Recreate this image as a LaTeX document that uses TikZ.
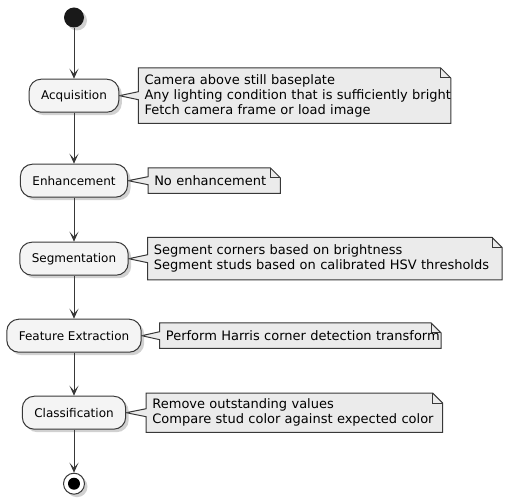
\documentclass[tikz,border=0pt]{standalone}
\usepackage{fontspec}
\setmainfont{DejaVu Sans}
\usetikzlibrary{positioning, arrows.meta, calc, backgrounds, shadows}
\definecolor{actfill}{HTML}{F4F4F4}
\definecolor{notefill}{HTML}{EBEBEB}
\definecolor{umlline}{HTML}{383838}
\definecolor{umlshadow}{HTML}{7A7A7A}

\tikzset{
  umlshade/.style={drop shadow={shadow xshift=3pt, shadow yshift=-3pt, opacity=0.35, fill=umlshadow}},
  act/.style={draw=umlline, fill=actfill, line width=1pt, rounded corners=12pt,
    minimum height=33pt, inner xsep=12pt, font=\fontsize{12}{14}\selectfont, umlshade},
  notebox/.style 2 args={inner xsep=6pt, inner ysep=0pt, text width=#1-12pt,
    minimum height=#2, align=left, font=\fontsize{13}{15.2}\selectfont},
  flow/.style={draw=umlline, line width=1pt, -{Stealth[length=10pt, width=9pt, inset=5pt]}},
  startdot/.style={circle, fill=black!90, inner sep=0pt, minimum size=20pt, umlshade},
  stopring/.style={circle, draw=umlline, fill=white, line width=1pt, inner sep=0pt, minimum size=21pt, umlshade},
}

% note outline with the wedge pointing at its activity
\newcommand{\notewedge}[2]{%
  \fill[umlshadow, opacity=0.35, xshift=3pt, yshift=-3pt]
    (#2.north west) -- (#2.south west) -- (#2.south east)
    -- ([yshift=-10pt]#2.north east) -- ([xshift=-10pt]#2.north east) -- cycle;
  \filldraw[draw=umlline, fill=notefill, line width=1pt]
    (#2.north west) -- ([yshift=4pt]#2.west) -- (#1.east) -- ([yshift=-4pt]#2.west)
    -- (#2.south west) -- (#2.south east) -- ([yshift=-10pt]#2.north east)
    -- ([xshift=-10pt]#2.north east) -- cycle;
  \draw[umlline, line width=1pt] ([xshift=-10pt]#2.north east)
    |- ([yshift=-10pt]#2.north east);
}

\begin{document}
\begin{tikzpicture}
  \useasboundingbox (0,0) rectangle (511pt,-502pt);

  \node[startdot] (start) at (74pt,-17.5pt) {};
  \node[act, below=51pt of start] (acq) {Acquisition};
  \node[act, below=51pt of acq] (enh) {Enhancement};
  \node[act, below=44pt of enh] (seg) {Segmentation};
  \node[act, below=43pt of seg] (feat) {Feature Extraction};
  \node[act, below=43pt of feat] (cls) {Classification};
  \node[stopring, below=43pt of cls] (stop) {};
  \node[circle, fill=black, inner sep=0pt, minimum size=12pt] (stopdot) at (stop) {};

  \node[notebox={312pt}{55pt}, right=19pt of acq] (acqnote)
    {Camera above still baseplate\\\mbox{Any lighting condition that is sufficiently bright}\\Fetch camera frame or load image};
  \node[notebox={132pt}{25pt}, right=20pt of enh] (enhnote) {No enhancement};
  \node[notebox={354pt}{42pt}, right=19pt of seg] (segnote)
    {Segment corners based on brightness\\\mbox{Segment studs based on calibrated HSV thresholds}};
  \node[notebox={281pt}{25pt}, right=18pt of feat] (featnote)
    {\mbox{Perform Harris corner detection transform}};
  \node[notebox={296pt}{39pt}, right=20pt of cls] (clsnote)
    {Remove outstanding values\\\mbox{Compare stud color against expected color}};

  \begin{scope}[on background layer]
    \notewedge{acq}{acqnote}
    \notewedge{enh}{enhnote}
    \notewedge{seg}{segnote}
    \notewedge{feat}{featnote}
    \notewedge{cls}{clsnote}
  \end{scope}

  \foreach \a/\b in {start/acq, acq/enh, enh/seg, seg/feat, feat/cls, cls/stop}
    \draw[flow] (\a) -- (\b);
\end{tikzpicture}
\end{document}
